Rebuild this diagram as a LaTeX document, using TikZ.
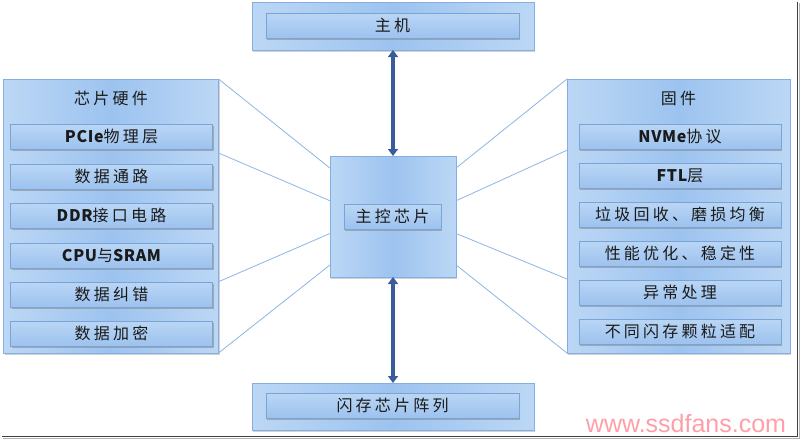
\documentclass[tikz,border=0pt]{standalone}
\usepackage{fontspec}
\setmainfont{Noto Sans CJK SC}[LetterSpace=20]
\newfontfamily\latinbold{Noto Sans CJK SC}[LetterSpace=4]
\newfontfamily\wmfont{Liberation Sans}
\newcommand{\lat}[1]{{\latinbold\bfseries\fontsize{16}{17}\selectfont #1}}
\usepackage{xcolor}
\usetikzlibrary{arrows.meta,positioning,shadows,calc}
\definecolor{ink}{HTML}{1A1A1A}
\definecolor{bluelight}{HTML}{BCD7F5}
\definecolor{bluemid}{HTML}{9CC3EF}
\definecolor{boxedge}{HTML}{86AFE1}
\definecolor{itemtop}{HTML}{BAD6F5}
\definecolor{itembot}{HTML}{9CC2EE}
\definecolor{itemedge}{HTML}{7BA3D4}
\definecolor{fanblue}{HTML}{8DB4E2}
\definecolor{busblue}{HTML}{3A5C9B}
\definecolor{wmpink}{HTML}{FF9EA8}
\tikzset{
  outerbox/.style={draw=boxedge,line width=0.8pt,
                   left color=bluelight,right color=bluelight,middle color=bluemid,
                   drop shadow={shadow xshift=1pt,shadow yshift=-1.5pt,fill=black!35,opacity=0.5},
                   inner sep=0pt,outer sep=0pt},
  itembox/.style={draw=itemedge,line width=0.6pt,
                  top color=itemtop,bottom color=itembot,
                  drop shadow={shadow xshift=1pt,shadow yshift=-1.5pt,fill=black!45,opacity=0.6},
                  minimum width=202,minimum height=25,inner sep=0pt,outer sep=0pt,
                  font=\fontsize{16}{18}\selectfont,text=ink},
  titletext/.style={font=\fontsize{16}{18}\selectfont,text=ink,inner sep=0pt},
  fanline/.style={draw=fanblue,line width=0.8pt},
  busarr/.style={{Triangle[length=7pt,width=10pt]}-{Triangle[length=7pt,width=10pt]},
                 line width=3.5pt,color=busblue}
}
\begin{document}
\begin{tikzpicture}[x=1pt,y=-1pt]
  \useasboundingbox (0,0) rectangle (802,440);
  % host and flash
  \node[outerbox,minimum width=282,minimum height=48] (host) at (393,26) {};
  \node[itembox,minimum width=253] (hosttxt) at (392.5,25.5) {主机};
  \node[outerbox,minimum width=282,minimum height=47] (flash) at (393,406.5) {};
  \node[itembox,minimum width=253] (flashtxt) at (392.5,405.5) {闪存芯片阵列};
  % controller
  \node[outerbox,minimum width=126,minimum height=121] (chip) at (393,216.5) {};
  \node[itembox,minimum width=97] (chiptxt) at (392.5,216.5) {主控芯片};
  % hardware side
  \node[outerbox,minimum width=215,minimum height=274] (hw) at (111,216) {};
  \node[titletext] (hwtitle) at (111,98) {芯片硬件};
  \node[itembox] (hw1) at (111.5,136.5) {\lat{PCIe}物理层};
  \node[itembox] (hw2) at (111.5,176.5) {数据通路};
  \node[itembox] (hw3) at (111.5,215.5) {\lat{DDR}接口电路};
  \node[itembox] (hw4) at (111.5,255.5) {\lat{CPU}与\lat{SRAM}};
  \node[itembox] (hw5) at (111.5,294.5) {数据纠错};
  \node[itembox] (hw6) at (111.5,333.5) {数据加密};
  % firmware side
  \node[outerbox,minimum width=223,minimum height=274] (fw) at (678.5,216) {};
  \node[titletext] (fwtitle) at (678.5,98) {固件};
  \node[itembox] (fw1) at (680,136.5) {\lat{NVMe}协议};
  \node[itembox] (fw2) at (680,175.5) {\lat{FTL}层};
  \node[itembox] (fw3) at (680,214.5) {垃圾回收、磨损均衡};
  \node[itembox] (fw4) at (680,253.5) {性能优化、稳定性};
  \node[itembox] (fw5) at (680,292.5) {异常处理};
  \node[itembox] (fw6) at (680,331.5) {不同闪存颗粒适配};
  % fan lines
  \draw[fanline] (hw.north east) -- ($(chip.north west)!0.1!(chip.south west)$);
  \draw[fanline] ($(hw.north east)!0.27!(hw.south east)$) -- ($(chip.north west)!0.37!(chip.south west)$);
  \draw[fanline] ($(hw.north east)!0.74!(hw.south east)$) -- ($(chip.north west)!0.64!(chip.south west)$);
  \draw[fanline] (hw.south east) -- ($(chip.north west)!0.9!(chip.south west)$);
  \draw[fanline] (fw.north west) -- ($(chip.north east)!0.1!(chip.south east)$);
  \draw[fanline] ($(fw.north west)!0.26!(fw.south west)$) -- ($(chip.north east)!0.37!(chip.south east)$);
  \draw[fanline] ($(fw.north west)!0.73!(fw.south west)$) -- ($(chip.north east)!0.64!(chip.south east)$);
  \draw[fanline] (fw.south west) -- ($(chip.north east)!0.9!(chip.south east)$);
  % buses
  \draw[busarr] (host.south) -- (chip.north);
  \draw[busarr] (chip.south) -- (flash.north);
  % watermark and frame shadow
  \node[anchor=base,inner sep=0pt,text=wmpink,font=\wmfont\fontsize{25}{25}\selectfont] (wm) at (686,432) {www.ssdfans.com};
  \draw[black!75,line width=1.5pt] (2,436.5) -- (797.5,436.5) -- (797.5,2);
  \draw[black!30,line width=1pt] (3,438.5) -- (799.5,438.5) -- (799.5,3);
\end{tikzpicture}
\end{document}
